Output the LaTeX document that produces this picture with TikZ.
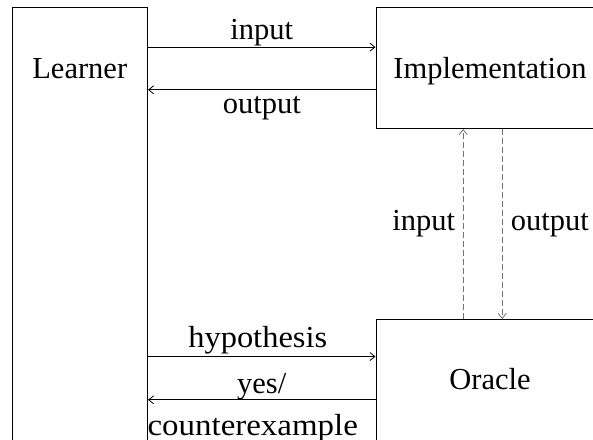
\documentclass[tikz,border=0pt]{standalone}
\usepackage{fontspec}
\setmainfont{Liberation Serif}
\usetikzlibrary{arrows.meta}
\begin{document}
\begin{tikzpicture}[x=1pt,y=-1pt,
  box/.style={draw=black,line width=1pt,anchor=north west,inner sep=0pt},
  lbl/.style={font=\fontsize{30.5}{36}\selectfont,inner sep=0pt,anchor=base},
  arr/.style={line width=0.9pt,-{Straight Barb[length=5pt,width=8pt,line width=0.8pt]}},
  darr/.style={arr,draw=black!55,dash pattern=on 6pt off 3pt}]
\path[use as bounding box] (0,0) rectangle (593,439);
\clip (0,0) rectangle (593,439);
% boxes
\node[box,minimum width=135.5pt,minimum height=460pt] (learner) at (11.5,7.3) {};
\node[box,minimum width=228pt,minimum height=120.7pt] (impl) at (375.5,7.3) {};
\node[box,minimum width=228pt,minimum height=140pt] (oracle) at (375.5,319) {};
% box texts
\node[lbl] (learnerT) at ([yshift=-70.7pt]learner.north) {Learner};
\node[lbl] (implT) at ([yshift=-70.7pt]impl.north) {Implementation};
\node[lbl] (oracleT) at ([yshift=-70pt]oracle.north) {Oracle};
% connector anchors
\coordinate (pIn) at ([yshift=21pt]impl.west);
\coordinate (pOut) at ([yshift=-21.65pt]impl.west);
\coordinate (pHyp) at ([yshift=33pt]oracle.west);
\coordinate (pYes) at ([yshift=-10.3pt]oracle.west);
\coordinate (dI) at ([xshift=-26.8pt]impl.south);
\coordinate (dO) at ([xshift=12.2pt]impl.south);
% horizontal connectors
\draw[arr] (pIn -| learner.east) -- (pIn)
  node[midway,lbl,yshift=7.7pt] (tIn) {input};
\draw[arr] (pOut) -- (pOut -| learner.east)
  node[midway,lbl,yshift=-23.2pt] (tOut) {output};
\draw[arr] (pHyp -| learner.east) -- (pHyp)
  node[midway,lbl,yshift=9pt,xshift=-4pt] (tHyp) {\scalebox{1.065}[1]{hypothesis}};
\draw[arr] (pYes) -- (pYes -| learner.east)
  node[midway,lbl,yshift=6.3pt] (tYes) {yes/}
  node[midway,lbl,yshift=-35.7pt,xshift=-9pt] (tCex) {\scalebox{1.08}[1]{counterexample}};
% vertical dashed connectors
\draw[darr] (dI |- oracle.north) -- (dI)
  node[midway,lbl,anchor=base east,xshift=-7.7pt,yshift=-6.5pt] (tDIn) {input};
\draw[darr] (dO) -- (dO |- oracle.north)
  node[midway,lbl,anchor=base west,xshift=8.3pt,yshift=-6.5pt] (tDOut) {output};
\end{tikzpicture}
\end{document}
